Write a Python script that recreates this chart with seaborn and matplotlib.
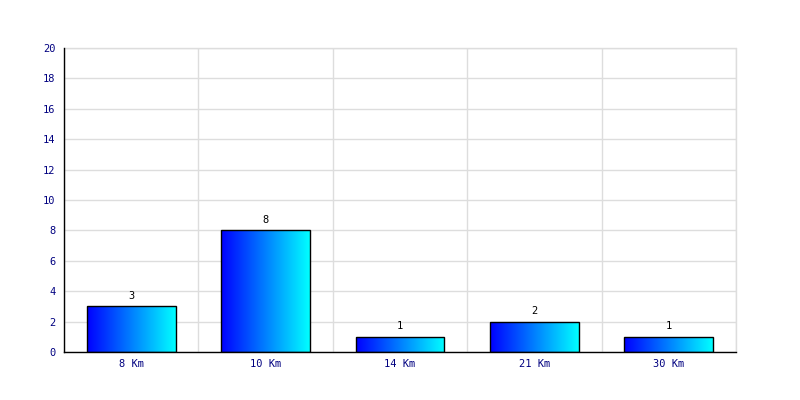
import numpy as np
import pandas as pd
import matplotlib
matplotlib.use("Agg")
import matplotlib.pyplot as plt
import seaborn as sns

categories = ["8 Km", "10 Km", "14 Km", "21 Km", "30 Km"]
counts = [3, 8, 1, 2, 1]

df = pd.DataFrame({"distance": categories, "count": counts})

sns.set_style("white")
plt.rcParams['font.family'] = ['DejaVu Sans Mono']

fig = plt.figure(figsize=(8, 4), dpi=100)
ax = fig.add_axes([0.08, 0.12, 0.84, 0.76])

sns.barplot(data=df, x="distance", y="count", ax=ax, width=0.66,
            color="blue", edgecolor="black", linewidth=1, zorder=3)

# horizontal blue -> cyan gradient inside each bar
grad = np.linspace(0, 1, 256).reshape(1, -1)
cmap = matplotlib.colors.LinearSegmentedColormap.from_list("bc", ["#0000ff", "#00ffff"])
for p in ax.patches:
    x0, y0 = p.get_x(), p.get_y()
    w, h = p.get_width(), p.get_height()
    p.set_facecolor("none")
    im = ax.imshow(grad, cmap=cmap, aspect="auto", extent=[x0, x0 + w, y0, y0 + h],
                   zorder=2.5, interpolation="bilinear")
    im.set_clip_path(p)
    ax.text(x0 + w / 2, y0 + h + 0.35, str(int(h)), ha="center", va="bottom",
            fontsize=7.5, color="black", zorder=4)

ax.set_xlim(-0.5, len(categories) - 0.5)
ax.set_ylim(0, 20)
ax.set_yticks(range(0, 21, 2))
ax.set_xticks(np.arange(-0.5, len(categories), 1.0), minor=True)

ax.grid(True, axis="y", color="#dddddd", linewidth=1, zorder=0)
ax.grid(True, axis="x", which="minor", color="#dddddd", linewidth=1, zorder=0)
ax.grid(False, axis="x", which="major")
ax.set_axisbelow(True)

# grid lines on the outer edges (top / right)
ax.axhline(20, color="#dddddd", linewidth=1, zorder=0, clip_on=False)
ax.axvline(len(categories) - 0.5, color="#dddddd", linewidth=1, zorder=0, clip_on=False)

for s in ["top", "right"]:
    ax.spines[s].set_visible(False)
for s in ["left", "bottom"]:
    ax.spines[s].set_color("black")
    ax.spines[s].set_linewidth(1)
    ax.spines[s].set_zorder(5)

ax.tick_params(axis="both", which="both", length=0, labelsize=7.5, labelcolor="#000080")
ax.tick_params(axis="y", pad=6)
ax.tick_params(axis="x", pad=5)
ax.set_xlabel("")
ax.set_ylabel("")

fig.savefig("out.png", dpi=100)
